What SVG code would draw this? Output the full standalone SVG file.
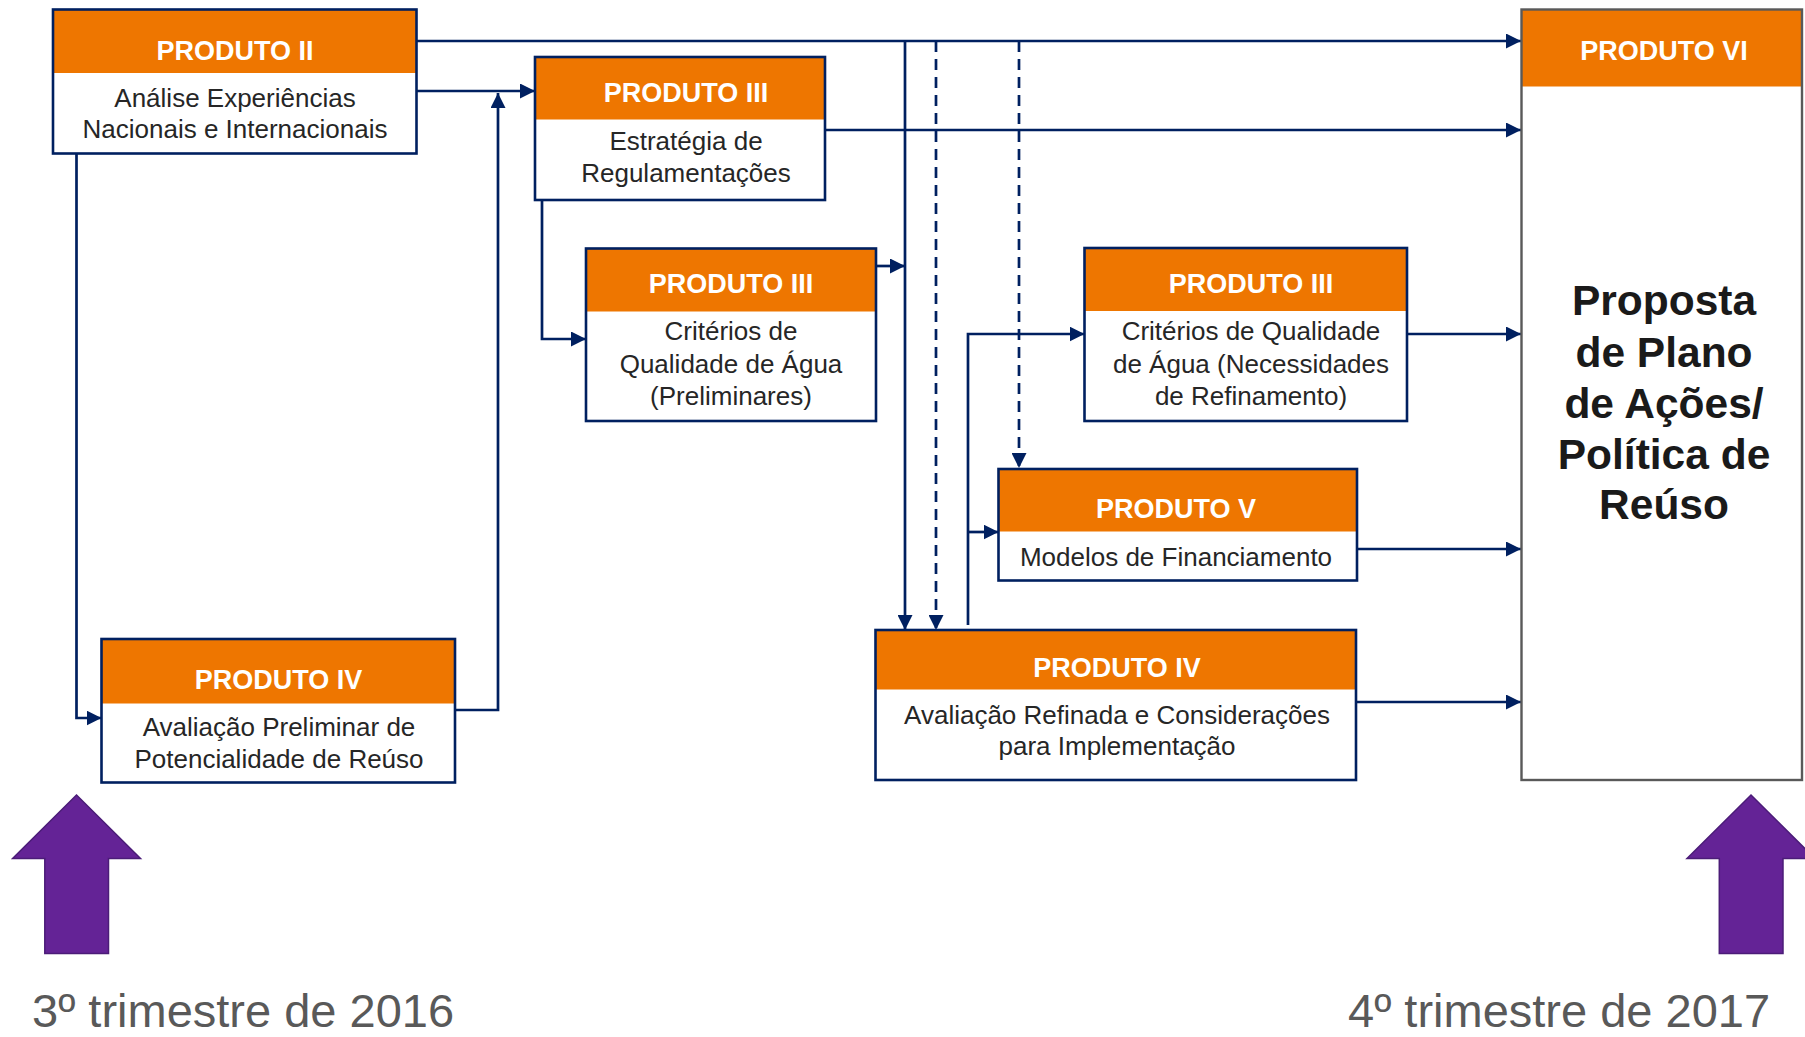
<svg xmlns="http://www.w3.org/2000/svg" width="1805" height="1037" viewBox="0 0 1805 1037">
<style>
.body{fill:#ffffff;stroke:none}
.hdr{fill:#EE7600;stroke:none}
.frame{fill:none;stroke:#002060;stroke-width:2.6}
.frame6{fill:none;stroke:#595959;stroke-width:2.4}
.title{font-family:"Liberation Sans",Arial,sans-serif;font-weight:bold;font-size:27px;fill:#ffffff;text-anchor:middle}
.txt{font-family:"Liberation Sans",Arial,sans-serif;font-size:26px;fill:#262626;text-anchor:middle}
.big{font-family:"Liberation Sans",Arial,sans-serif;font-weight:bold;font-size:42.5px;fill:#1a1a1a;text-anchor:middle}
.date{font-family:"Liberation Sans",Arial,sans-serif;font-size:47px;fill:#595959}
.conn{fill:none;stroke:#002060;stroke-width:2.7}
.arr{marker-end:url(#ah)}
.dash{stroke-dasharray:11 7}
.purple{fill:#642396;stroke:#4B1C78;stroke-width:1.5}
</style>
<defs>
<marker id="ah" viewBox="0 0 15 15" refX="15" refY="7.5" markerWidth="15" markerHeight="15" markerUnits="userSpaceOnUse" orient="auto">
<path d="M0,0 L15,7.5 L0,15 z" fill="#002060"/>
</marker>
</defs>

<g id="connectors">
<path class="conn arr" d="M416,41 H1521"/>
<path class="conn arr" d="M416,91 H535"/>
<path class="conn arr" d="M455,710 H498 V93"/>
<path class="conn arr" d="M76.5,153 V718 H101.5"/>
<path class="conn arr" d="M542,200 V339 H586"/>
<path class="conn arr" d="M825,130 H1521"/>
<path class="conn arr" d="M876,266 H905"/>
<path class="conn arr" d="M905,41 V630"/>
<path class="conn arr dash" d="M936,41 V630"/>
<path class="conn arr dash" d="M1019,41 V468"/>
<path class="conn arr" d="M968,625 V334 H1084.5"/>
<path class="conn arr" d="M968,532 H998.5"/>
<path class="conn arr" d="M1407,334 H1521"/>
<path class="conn arr" d="M1357,549 H1521"/>
<path class="conn arr" d="M1356,702 H1521"/>
</g>

<g id="produto2">
<rect class="body" x="53" y="9.5" width="363.5" height="144"/>
<rect class="hdr" x="53" y="9.5" width="363.5" height="63.5"/>
<rect class="frame" x="53" y="9.5" width="363.5" height="144"/>
<text class="title" x="235" y="59.5">PRODUTO II</text>
<text class="txt" x="235" y="106.5">Análise Experiências</text>
<text class="txt" x="235" y="138">Nacionais e Internacionais</text>
</g>

<g id="produto3-estrategia">
<rect class="body" x="535" y="57" width="290" height="143"/>
<rect class="hdr" x="535" y="57" width="290" height="62.5"/>
<rect class="frame" x="535" y="57" width="290" height="143"/>
<text class="title" x="686" y="101.5">PRODUTO III</text>
<text class="txt" x="686" y="150">Estratégia de</text>
<text class="txt" x="686" y="181.5">Regulamentações</text>
</g>

<g id="produto3-criterios-preliminares">
<rect class="body" x="586" y="248.5" width="290" height="172.5"/>
<rect class="hdr" x="586" y="248.5" width="290" height="63"/>
<rect class="frame" x="586" y="248.5" width="290" height="172.5"/>
<text class="title" x="731" y="292.5">PRODUTO III</text>
<text class="txt" x="731" y="340">Critérios de</text>
<text class="txt" x="731" y="372.5">Qualidade de Água</text>
<text class="txt" x="731" y="404.5">(Preliminares)</text>
</g>

<g id="produto3-criterios-refinamento">
<rect class="body" x="1084.5" y="248" width="322.5" height="173"/>
<rect class="hdr" x="1084.5" y="248" width="322.5" height="63"/>
<rect class="frame" x="1084.5" y="248" width="322.5" height="173"/>
<text class="title" x="1251" y="292.5">PRODUTO III</text>
<text class="txt" x="1251" y="340">Critérios de Qualidade</text>
<text class="txt" x="1251" y="372.5">de Água (Necessidades</text>
<text class="txt" x="1251" y="404.5">de Refinamento)</text>
</g>

<g id="produto5">
<rect class="body" x="998.5" y="469" width="358.5" height="111.5"/>
<rect class="hdr" x="998.5" y="469" width="358.5" height="62.5"/>
<rect class="frame" x="998.5" y="469" width="358.5" height="111.5"/>
<text class="title" x="1176" y="517.5">PRODUTO V</text>
<text class="txt" x="1176" y="565.5">Modelos de Financiamento</text>
</g>

<g id="produto4-refinada">
<rect class="body" x="875.5" y="630" width="480.5" height="150"/>
<rect class="hdr" x="875.5" y="630" width="480.5" height="59.5"/>
<rect class="frame" x="875.5" y="630" width="480.5" height="150"/>
<text class="title" x="1117" y="676.5">PRODUTO IV</text>
<text class="txt" x="1117" y="724">Avaliação Refinada e Considerações</text>
<text class="txt" x="1117" y="755">para Implementação</text>
</g>

<g id="produto4-preliminar">
<rect class="body" x="101.5" y="639" width="353.5" height="143.5"/>
<rect class="hdr" x="101.5" y="639" width="353.5" height="64.5"/>
<rect class="frame" x="101.5" y="639" width="353.5" height="143.5"/>
<text class="title" x="278.5" y="688.5">PRODUTO IV</text>
<text class="txt" x="279" y="736">Avaliação Preliminar de</text>
<text class="txt" x="279" y="767.5">Potencialidade de Reúso</text>
</g>

<g id="produto6">
<rect class="body" x="1521.5" y="9.5" width="280.5" height="770.5"/>
<rect class="hdr" x="1521.5" y="9.5" width="280.5" height="77"/>
<rect class="frame6" x="1521.5" y="9.5" width="280.5" height="770.5"/>
<text class="title" x="1664" y="60">PRODUTO VI</text>
<text class="big" x="1664" y="315">Proposta</text>
<text class="big" x="1664" y="366.5">de Plano</text>
<text class="big" x="1664" y="417.5">de Ações/</text>
<text class="big" x="1664" y="468.5">Política de</text>
<text class="big" x="1664" y="518.5">Reúso</text>
</g>

<g id="timeline-start">
<polygon class="purple" points="76.5,795 140.5,858.5 108.5,858.5 108.5,953.5 44.8,953.5 44.8,858.5 12.6,858.5"/>
<text class="date" x="32" y="1027">3º trimestre de 2016</text>
</g>

<g id="timeline-end">
<polygon class="purple" points="1751,795 1815,858.5 1783,858.5 1783,953.5 1719.3,953.5 1719.3,858.5 1687,858.5"/>
<text class="date" x="1348" y="1027">4º trimestre de 2017</text>
</g>
</svg>
